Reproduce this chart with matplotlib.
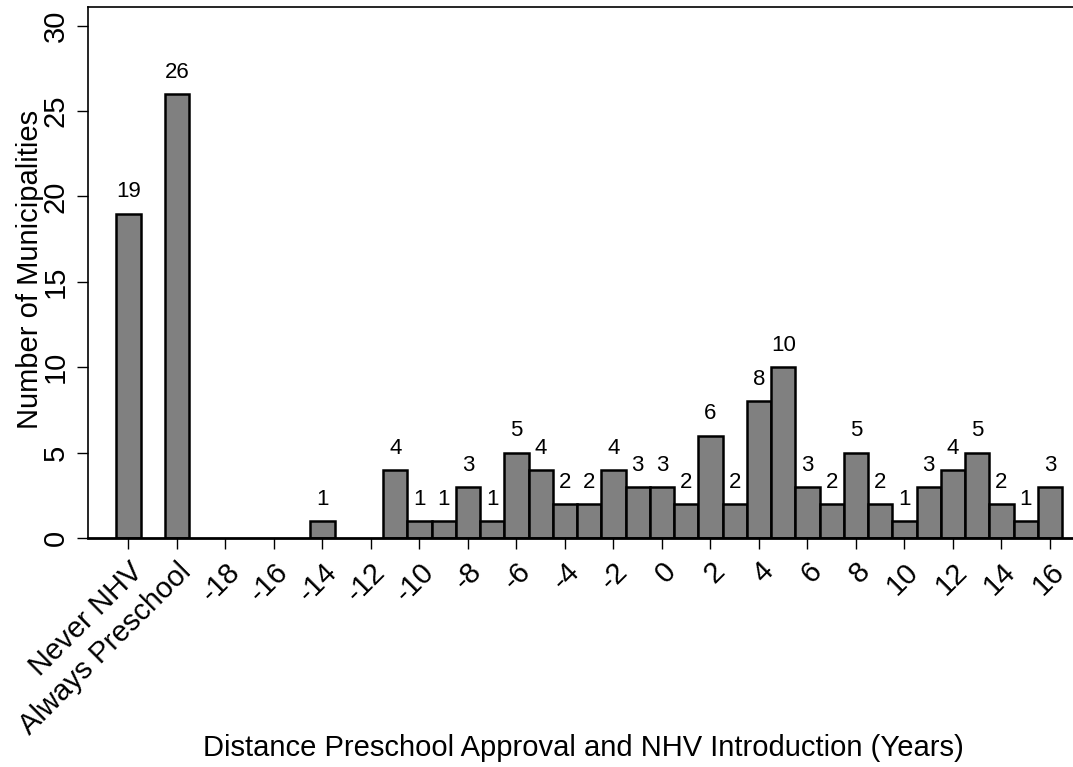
import matplotlib
matplotlib.use("Agg")
import matplotlib.pyplot as plt

plt.rcParams["font.family"] = ["Liberation Sans", "DejaVu Sans"]

# 数据
special_labels = ["Never NHV", "Always Preschool"]
special_pos = [-22, -20]
special_counts = [19, 26]

years = [-14, -11, -10, -9, -8, -7, -6, -5, -4, -3, -2, -1, 0, 1, 2, 3,
         4, 5, 6, 7, 8, 9, 10, 11, 12, 13, 14, 15, 16]
counts = [1, 4, 1, 1, 3, 1, 5, 4, 2, 2, 4, 3, 3, 2, 6, 2,
          8, 10, 3, 2, 5, 2, 1, 3, 4, 5, 2, 1, 3]

tick_pos = special_pos + list(range(-18, 17, 2))
tick_labels = special_labels + [str(v) for v in range(-18, 17, 2)]

fig = plt.figure(figsize=(10.73, 7.67), dpi=100)
ax = fig.add_axes([0.082, 0.2986, 0.918, 0.6923])

bar_kw = dict(width=1.0, color="#808080", edgecolor="black", linewidth=1.8)
b1 = ax.bar(special_pos, special_counts, **bar_kw)
b2 = ax.bar(years, counts, **bar_kw)

for bars in (b1, b2):
    for rect in bars:
        h = rect.get_height()
        ax.annotate(str(int(h)), (rect.get_x() + rect.get_width() / 2, h),
                    xytext=(0, 8), textcoords="offset points",
                    ha="center", va="bottom", fontsize=16)

ax.set_xlim(-23.67, 16.95)
ax.set_ylim(0, 31.1)
ax.set_yticks(range(0, 31, 5))
ax.set_yticklabels([str(v) for v in range(0, 31, 5)], rotation=90, va="center")
ax.set_xticks(tick_pos)
ax.set_xticklabels(tick_labels, rotation=45, ha="right", rotation_mode="anchor")
ax.tick_params(axis="both", length=8, width=1.0, labelsize=21, direction="out")
ax.tick_params(axis="x", pad=6)
ax.tick_params(axis="y", pad=5)

ax.spines["right"].set_visible(False)
for s in ("left", "top"):
    ax.spines[s].set_linewidth(1.2)
ax.spines["bottom"].set_linewidth(2.0)

ax.set_xlabel("Distance Preschool Approval and NHV Introduction (Years)", fontsize=21)
ax.xaxis.set_label_coords(0.503, -0.395)
ax.xaxis.label.set_va("center")
ax.set_ylabel("Number of Municipalities", fontsize=21)
ax.yaxis.set_label_coords(-0.059, 0.505)
ax.yaxis.label.set_va("center")

fig.savefig("out.png", dpi=100)
